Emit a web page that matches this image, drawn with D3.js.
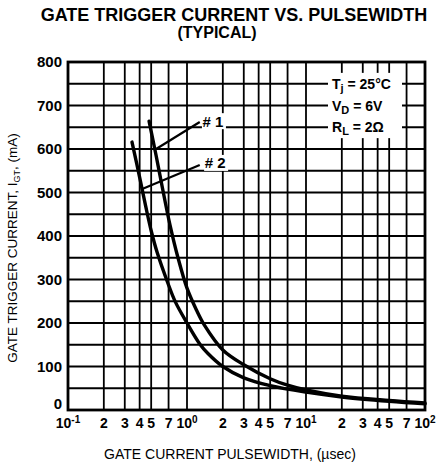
<!DOCTYPE html>
<html><head><meta charset="utf-8">
<script src="https://cdn.jsdelivr.net/npm/d3@7"></script>
<style>
html,body{margin:0;padding:0;background:#fff;}
text{font-family:"Liberation Sans",Arial,Helvetica,sans-serif;fill:#000;}
</style></head>
<body><svg id="c" width="440" height="466"></svg>
<script>
// ---- data ----
const pulseWidth1 = [0.48, 0.55, 0.62, 0.72, 0.84, 1.0, 1.2, 1.4, 2.0, 3, 5, 7, 10, 20, 50, 100];
const current1    = [664, 585, 512, 425, 350, 280, 230, 195, 138, 104, 72, 57, 46, 32, 22, 16];
const pulseWidth2 = [0.345, 0.4, 0.45, 0.5, 0.56, 0.69, 0.8, 1.0, 1.28, 1.5, 2.0, 3, 5, 10, 20, 50, 100];
const current2    = [616, 535, 468, 412, 363, 292, 248, 200, 152, 130, 100, 74, 56, 41, 30, 20, 14];
const yTicks = [0, 100, 200, 300, 400, 500, 600, 700, 800];
const yGrid = d3.range(0, 801, 50);
const decades = [0.1, 1, 10, 100];
const decadeExp = ["-1", "0", "1", "2"];
const gridMult = [1, 2, 3, 4, 5, 7];
const minorLabels = [2, 3, 4, 5, 7];
const conditions = [["T", "j", " = 25°C", 750], ["V", "D", " = 6V", 700], ["R", "L", " = 2Ω", 650]];
const curveLabels = [
  {text: "# 1", x: 1.62, y: 664, from: [1.28, 662], to: [0.55, 600]},
  {text: "# 2", x: 1.69, y: 568, from: [1.28, 563], to: [0.42, 508]}
];

// ---- layout ----
const svg = d3.select("#c");
const L = 68, R = 425, T = 62, B = 410;
const x = d3.scaleLog().domain([0.1, 100]).range([L, R]);
const y = d3.scaleLinear().domain([0, 800]).range([B, T]);

svg.append("rect").attr("width", 440).attr("height", 466).attr("fill", "#fff");

// title
svg.append("text").attr("x", 234).attr("y", 21).attr("text-anchor", "middle")
  .attr("font-size", 18).attr("font-weight", "bold").text("GATE TRIGGER CURRENT VS. PULSEWIDTH");
svg.append("text").attr("x", 217).attr("y", 38).attr("text-anchor", "middle")
  .attr("font-size", 16).attr("font-weight", "bold").text("(TYPICAL)");

// grid
const xGrid = [];
decades.slice(0, 3).forEach(d => gridMult.forEach(m => xGrid.push(d * m)));
const g = svg.append("g");
g.selectAll(".hg").data(yGrid).enter().append("line")
  .attr("x1", L).attr("x2", R).attr("y1", d => y(d)).attr("y2", d => y(d))
  .attr("stroke", "#000").attr("stroke-width", 1.8);
g.selectAll(".vg").data(xGrid).enter().append("line")
  .attr("x1", d => x(d)).attr("x2", d => x(d)).attr("y1", T).attr("y2", B)
  .attr("stroke", "#000").attr("stroke-width", 1.8);

// condition box (white background)
svg.append("rect").attr("x", 328).attr("y", y(775)).attr("width", 74).attr("height", y(625) - y(775))
  .attr("fill", "#fff");
conditions.forEach(c => {
  const t = svg.append("text").attr("x", 332).attr("y", y(c[3])).attr("dy", "0.36em")
    .attr("font-size", 14).attr("font-weight", "bold");
  t.append("tspan").text(c[0]);
  t.append("tspan").attr("font-size", 11).attr("dy", 3).text(c[1]);
  t.append("tspan").attr("dy", -3).text(c[2]);
});

// border
svg.append("rect").attr("x", L).attr("y", T).attr("width", R - L).attr("height", B - T)
  .attr("fill", "none").attr("stroke", "#000").attr("stroke-width", 2.8);

// curves
const line = d3.line().x(d => x(d[0])).y(d => y(d[1])).curve(d3.curveCatmullRom.alpha(0.5));
[[pulseWidth1, current1], [pulseWidth2, current2]].forEach(([xs, ys]) => {
  svg.append("path").datum(xs.map((v, i) => [v, ys[i]])).attr("d", line)
    .attr("fill", "none").attr("stroke", "#000").attr("stroke-width", 3.4)
    .attr("stroke-linecap", "round");
});

// curve labels
curveLabels.forEach(c => {
  svg.append("line").attr("x1", x(c.from[0])).attr("y1", y(c.from[1]))
    .attr("x2", x(c.to[0])).attr("y2", y(c.to[1])).attr("stroke", "#000").attr("stroke-width", 2.2);
  svg.append("rect").attr("x", x(c.x) - 10).attr("y", y(c.y) - 8).attr("width", 24).attr("height", 16).attr("fill", "#fff");
  svg.append("text").attr("x", x(c.x) + 1).attr("y", y(c.y)).attr("dy", "0.36em").attr("text-anchor", "middle")
    .attr("font-size", 15).attr("font-weight", "bold").text(c.text);
});

// y tick labels ("0" sits just above the bottom border, as in the reference)
svg.selectAll(".yl").data(yTicks).enter().append("text")
  .attr("x", L - 6).attr("y", d => y(d)).attr("dy", d => d === 0 ? "-0.05em" : "0.34em").attr("text-anchor", "end")
  .attr("font-size", 15).attr("font-weight", "bold").text(d => d);

// x tick labels
decades.forEach((d, i) => {
  const t = svg.append("text").attr("x", x(d)).attr("y", 428).attr("text-anchor", "middle")
    .attr("font-size", 14).attr("font-weight", "bold");
  t.append("tspan").text("10");
  t.append("tspan").attr("font-size", 10).attr("dy", -5).text(decadeExp[i]);
});
decades.slice(0, 3).forEach(d => minorLabels.forEach(m => {
  svg.append("text").attr("x", x(d * m)).attr("y", 428).attr("text-anchor", "middle")
    .attr("font-size", 14).attr("font-weight", "bold").text(m);
}));

// axis titles
svg.append("text").attr("x", 230).attr("y", 459).attr("text-anchor", "middle")
  .attr("font-size", 14).text("GATE CURRENT PULSEWIDTH, (µsec)");
const yt = svg.append("text").attr("transform", "translate(17,248) rotate(-90)")
  .attr("text-anchor", "middle").attr("font-size", 13.5);
yt.append("tspan").text("GATE TRIGGER CURRENT, I");
yt.append("tspan").attr("font-size", 9).attr("dy", 3).text("GT");
yt.append("tspan").attr("dy", -3).text(", (mA)");
</script></body></html>
